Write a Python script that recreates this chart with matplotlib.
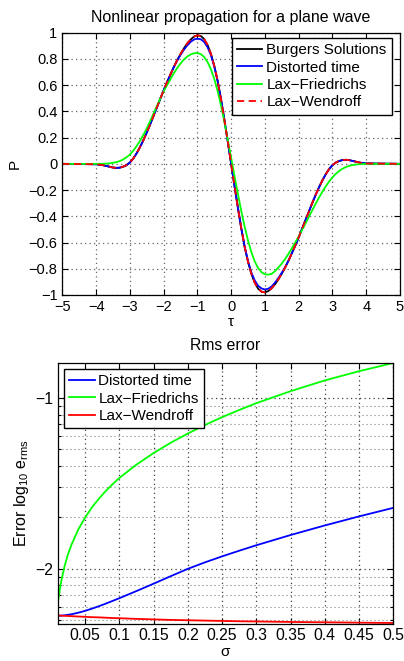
import numpy as np
import matplotlib
matplotlib.use("Agg")
import matplotlib.pyplot as plt
from matplotlib.ticker import FixedLocator, FuncFormatter, LogLocator, NullFormatter

plt.rcParams['font.family'] = ['Liberation Sans', 'DejaVu Sans']
plt.rcParams['font.size'] = 11
plt.rcParams['mathtext.fontset'] = 'custom'
plt.rcParams['mathtext.rm'] = 'Liberation Sans'
plt.rcParams['mathtext.it'] = 'Liberation Sans:italic'

# top panel: pressure waveforms (tau = -5, then -4..4 every 0.1, then 5)
tau = np.concatenate([[-5.0], np.linspace(-4, 4, 81), [5.0]])
p_burgers = [0,
    -0.003, -0.006, -0.01, -0.016, -0.022, -0.028, -0.031, -0.029, -0.022, -0.01,
    0.01, 0.04, 0.08, 0.127, 0.18, 0.238, 0.30, 0.365, 0.43, 0.495,
    0.56, 0.622, 0.68, 0.737, 0.79, 0.837, 0.88, 0.918, 0.948, 0.97,
    0.98, 0.975, 0.952, 0.907, 0.84, 0.748, 0.632, 0.492, 0.335, 0.17,
    0.0,
    -0.17, -0.335, -0.492, -0.632, -0.748, -0.84, -0.907, -0.952, -0.975, -0.98,
    -0.97, -0.948, -0.918, -0.88, -0.837, -0.79, -0.737, -0.68, -0.622, -0.56,
    -0.495, -0.43, -0.365, -0.30, -0.238, -0.18, -0.127, -0.08, -0.04, -0.01,
    0.01, 0.022, 0.029, 0.031, 0.028, 0.022, 0.016, 0.01, 0.006, 0.003,
    0]
p_distorted = [0,
    -0.003, -0.006, -0.01, -0.016, -0.022, -0.028, -0.031, -0.029, -0.022, -0.01,
    0.01, 0.04, 0.08, 0.127, 0.18, 0.238, 0.30, 0.365, 0.43, 0.495,
    0.56, 0.622, 0.68, 0.737, 0.787, 0.83, 0.87, 0.903, 0.93, 0.948,
    0.955, 0.95, 0.93, 0.89, 0.83, 0.742, 0.632, 0.492, 0.335, 0.17,
    0.0,
    -0.17, -0.335, -0.492, -0.632, -0.742, -0.83, -0.89, -0.93, -0.95, -0.958,
    -0.952, -0.935, -0.905, -0.87, -0.83, -0.787, -0.737, -0.68, -0.622, -0.56,
    -0.495, -0.43, -0.365, -0.30, -0.238, -0.18, -0.127, -0.08, -0.04, -0.01,
    0.01, 0.022, 0.029, 0.031, 0.028, 0.022, 0.016, 0.01, 0.006, 0.003,
    0]
p_laxf = [0,
    0, 0, 0.001, 0.002, 0.004, 0.008, 0.013, 0.021, 0.033, 0.05,
    0.07, 0.1, 0.135, 0.175, 0.22, 0.27, 0.325, 0.383, 0.44, 0.497,
    0.552, 0.60, 0.645, 0.69, 0.73, 0.765, 0.795, 0.818, 0.834, 0.843,
    0.845, 0.837, 0.815, 0.777, 0.722, 0.648, 0.555, 0.445, 0.32, 0.183,
    0.045,
    -0.095, -0.23, -0.36, -0.48, -0.585, -0.675, -0.745, -0.795, -0.827, -0.842,
    -0.845, -0.838, -0.818, -0.79, -0.76, -0.725, -0.685, -0.643, -0.598, -0.553,
    -0.505, -0.455, -0.405, -0.355, -0.305, -0.258, -0.213, -0.172, -0.135, -0.103,
    -0.076, -0.054, -0.037, -0.024, -0.015, -0.009, -0.005, -0.002, -0.001, 0,
    0]
p_laxw = [0,
    -0.003, -0.006, -0.01, -0.016, -0.022, -0.028, -0.031, -0.029, -0.022, -0.01,
    0.01, 0.04, 0.08, 0.127, 0.18, 0.238, 0.30, 0.365, 0.43, 0.495,
    0.56, 0.622, 0.68, 0.737, 0.79, 0.837, 0.88, 0.918, 0.948, 0.97,
    0.98, 0.975, 0.952, 0.907, 0.84, 0.748, 0.632, 0.492, 0.335, 0.17,
    0.0,
    -0.17, -0.335, -0.492, -0.632, -0.748, -0.84, -0.907, -0.952, -0.975, -0.98,
    -0.97, -0.948, -0.918, -0.88, -0.837, -0.79, -0.737, -0.68, -0.622, -0.56,
    -0.495, -0.43, -0.365, -0.30, -0.238, -0.18, -0.127, -0.08, -0.04, -0.01,
    0.01, 0.022, 0.029, 0.031, 0.028, 0.022, 0.016, 0.01, 0.006, 0.003,
    0]

# bottom panel: log10 of rms error against sigma
sigma = [0.01, 0.015, 0.02, 0.025, 0.03, 0.04, 0.05, 0.06, 0.07, 0.08,
         0.09, 0.1, 0.125, 0.15, 0.175, 0.2, 0.225, 0.25, 0.275, 0.3,
         0.35, 0.4, 0.45, 0.5]
err_distorted = [-2.275, -2.274, -2.272, -2.269, -2.266, -2.257, -2.246, -2.233, -2.219, -2.204,
                 -2.188, -2.172, -2.13, -2.087, -2.043, -2.0, -1.962, -1.927, -1.894, -1.862,
                 -1.802, -1.746, -1.693, -1.643]
err_laxf = [-2.20, -2.075, -1.985, -1.915, -1.86, -1.77, -1.70, -1.64, -1.59, -1.545,
            -1.505, -1.468, -1.39, -1.322, -1.262, -1.208, -1.158, -1.112, -1.07, -1.03,
            -0.96, -0.897, -0.843, -0.795]
err_laxw = [-2.273, -2.274, -2.275, -2.276, -2.277, -2.279, -2.281, -2.283, -2.284, -2.286,
            -2.288, -2.289, -2.293, -2.296, -2.299, -2.301, -2.303, -2.305, -2.307, -2.308,
            -2.311, -2.313, -2.315, -2.317]

W, H = 404, 661
fig = plt.figure(figsize=(W / 100, H / 100), dpi=100)

def box(l, t, r, b):
    return [l / W, 1 - b / H, (r - l) / W, (b - t) / H]

def matlab_style(ax, size):
    ax.tick_params(which='both', direction='in', top=True, right=True,
                   labelsize=size, width=0.8)
    ax.tick_params(which='major', length=4)
    ax.tick_params(which='minor', length=2)
    for s in ax.spines.values():
        s.set_linewidth(0.9)

def minus(v, p):
    return ('%g' % (round(v, 6) + 0.0)).replace('-', '\u2212')

dots = (0, (1, 2.6))
legend_kw = dict(borderaxespad=0, fancybox=False, framealpha=1, edgecolor='k',
                 fontsize=11, handlelength=1.65, handletextpad=0.25,
                 labelspacing=0.22, borderpad=0.35)

ax1 = fig.add_axes(box(62.3, 32.7, 400, 295))
ax1.plot(tau, p_burgers, color='k', lw=1.3, label='Burgers Solutions')
ax1.plot(tau, p_distorted, color='b', lw=1.3, label='Distorted time')
ax1.plot(tau, p_laxf, color=(0, 1, 0), lw=1.3, label='Lax\u2212Friedrichs')
ax1.plot(tau, p_laxw, color='r', lw=1.3, ls=(0, (4, 2.5)), label='Lax\u2212Wendroff')
ax1.set_xlim(-5, 5)
ax1.set_ylim(-1, 1)
ax1.xaxis.set_major_locator(FixedLocator(np.arange(-5, 6, 1)))
ax1.yaxis.set_major_locator(FixedLocator(np.round(np.arange(-1, 1.01, 0.2), 1)))
ax1.xaxis.set_major_formatter(FuncFormatter(minus))
ax1.yaxis.set_major_formatter(FuncFormatter(minus))
ax1.grid(True, ls=dots, color='0.4', lw=0.9)
matlab_style(ax1, 10.5)
ax1.set_title('Nonlinear propagation for a plane wave', fontsize=11.5, pad=8)
ax1.set_xlabel('\u03c4', labelpad=1)
ax1.set_ylabel('P', labelpad=5)
leg1 = ax1.legend(loc='upper right', bbox_to_anchor=(0.976, 0.98), **legend_kw)
leg1.get_frame().set_linewidth(1.0)

ax2 = fig.add_axes(box(57.7, 363, 393.3, 623.5))
ax2.semilogy(sigma, 10 ** np.array(err_distorted), color='b', lw=1.3, label='Distorted time')
ax2.semilogy(sigma, 10 ** np.array(err_laxf), color=(0, 1, 0), lw=1.3, label='Lax\u2212Friedrichs')
ax2.semilogy(sigma, 10 ** np.array(err_laxw), color='r', lw=1.3, label='Lax\u2212Wendroff')
ax2.set_xlim(0.01, 0.5)
ax2.set_ylim(10 ** -2.32, 10 ** -0.795)
ax2.xaxis.set_major_locator(FixedLocator(np.round(np.arange(0.05, 0.501, 0.05), 2)))
ax2.xaxis.set_major_formatter(FuncFormatter(lambda v, p: '%g' % v))
ax2.yaxis.set_major_locator(LogLocator(base=10, numticks=10))
ax2.yaxis.set_minor_locator(LogLocator(base=10, subs=np.arange(2, 10), numticks=20))
ax2.yaxis.set_major_formatter(FuncFormatter(
    lambda v, p: ('%d' % round(np.log10(v))).replace('-', '\u2212')))
ax2.yaxis.set_minor_formatter(NullFormatter())
ax2.grid(True, which='major', ls=dots, color='0.25', lw=0.9)
ax2.grid(True, which='minor', ls=dots, color='0.5', lw=0.8)
matlab_style(ax2, 11.3)
ax2.set_title('Rms error', fontsize=11.3, pad=9)
ax2.set_xlabel('\u03c3', labelpad=1)
ax2.set_ylabel('Error log$_{10}$ e$_{\\mathrm{rms}}$', fontsize=11.5, labelpad=3)
leg2 = ax2.legend(loc='upper left', bbox_to_anchor=(0.019, 0.977), **legend_kw)
leg2.get_frame().set_linewidth(1.0)

fig.savefig('out.png', dpi=100)
